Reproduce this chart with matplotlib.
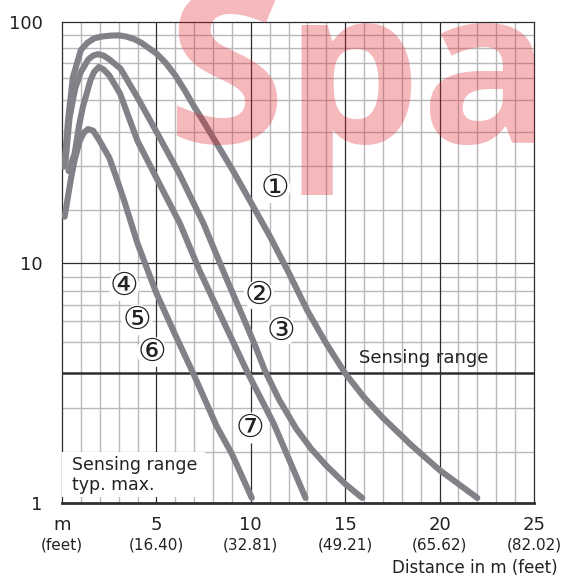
import matplotlib
matplotlib.use("Agg")
import matplotlib.pyplot as plt
from matplotlib.transforms import blended_transform_factory
from matplotlib.patches import Rectangle

# ---------------- data ----------------
curve_a_x = [0.12, 0.32, 0.58, 1.0, 1.35, 1.7, 2.1, 2.6, 3.0, 3.4, 3.8, 4.2, 5.0, 5.5,
             6.0, 6.5, 7.0, 7.5, 8.0, 8.5, 9.0, 9.5, 10.0, 11.0, 12.0, 13.0, 14.0,
             15.0, 16.0, 17.0, 18.5, 20.0, 22.0]
curve_a_y = [25, 39, 59, 76.5, 82, 85.5, 87, 87.8, 88, 87, 85, 82, 74, 67.5,
             60, 52, 44.5, 38.5, 33.1, 28.5, 24.5, 20.9, 17.8, 12.9, 9.1, 6.3, 4.6,
             3.46, 2.75, 2.26, 1.74, 1.37, 1.05]

curve_b_x = [0.18, 0.4, 0.7, 1.0, 1.4, 1.65, 1.9, 2.2, 2.5, 3.1, 4.0, 5.0, 6.2, 7.5,
             8.7, 9.6, 10.2, 10.75, 11.5, 12.4, 13.2, 14.0, 15.0, 15.9]
curve_b_y = [26, 40, 53, 62, 70, 72.5, 73.5, 72.5, 70, 64, 48.5, 35, 23.5, 14.5,
             8.6, 5.9, 4.57, 3.55, 2.69, 2.04, 1.68, 1.43, 1.2, 1.05]

curve_c_x = [0.35, 0.67, 0.9, 1.11, 1.5, 1.7, 1.95, 2.2, 2.5, 3.07, 4.0, 5.0, 6.25,
             7.3, 8.5, 9.85, 11.2, 12.9]
curve_c_y = [24, 28.4, 37, 44.5, 57, 62, 65, 63.5, 60, 50.5, 32, 22.5, 14.5,
             9.2, 5.8, 3.46, 2.15, 1.05]

curve_d_x = [0.14, 0.23, 0.49, 0.67, 0.94, 1.15, 1.38, 1.65, 1.95, 2.2, 2.5, 2.9,
             3.3, 4.0, 5.0, 6.0, 6.95, 8.2, 9.0, 10.05]
curve_d_y = [15.5, 17.1, 22.7, 26.7, 32.0, 34.6, 35.9, 35.3, 32.5, 30, 27.3, 22.3,
             18, 12.0, 7.45, 5.0, 3.46, 2.08, 1.6, 1.05]

curves = [(curve_a_x, curve_a_y), (curve_b_x, curve_b_y),
          (curve_c_x, curve_c_y), (curve_d_x, curve_d_y)]

label_texts = ["①", "②", "③", "④", "⑤", "⑥", "⑦"]
label_x = [11.28, 10.43, 11.6, 3.28, 3.97, 4.77, 9.96]
label_y = [20.4, 7.3, 5.19, 7.98, 5.77, 4.24, 2.05]

x_major = [0, 5, 10, 15, 20, 25]
x_major_labels = ["m", "5", "10", "15", "20", "25"]
x_feet_labels = ["(feet)", "(16.40)", "(32.81)", "(49.21)", "(65.62)", "(82.02)"]
x_minor = [i for i in range(1, 25) if i % 5 != 0]

y_major = [1, 10, 100]
y_major_labels = ["1", "10", "100"]
y_minor = [1.63, 2.48, 4.69, 5.73, 6.66, 7.64, 8.73,
           16.6, 25.1, 35.0, 47.6, 58.6, 67.7, 78.0, 88.7]
sensing_range_y = 3.46

# ---------------- figure ----------------
fig = plt.figure(figsize=(5.65, 5.81), dpi=100)
ax = fig.add_axes([62 / 565, 78 / 581, 472 / 565, 481 / 581])
ax.set_yscale("log")
ax.set_xlim(0, 25)
ax.set_ylim(1, 100)

light = "#b9b9bb"
dark = "#2e2e2e"
for xv in x_minor:
    ax.axvline(xv, color=light, lw=1.0, zorder=1)
for yv in y_minor:
    ax.axhline(yv, color=light, lw=1.0, zorder=1)
for xv in x_major[1:-1]:
    ax.axvline(xv, color=dark, lw=0.9, zorder=2)
ax.axhline(10, color=dark, lw=0.9, zorder=2)
ax.axhline(sensing_range_y, color=dark, lw=1.8, zorder=2)

for s in ["top", "right", "left"]:
    ax.spines[s].set_color(dark)
    ax.spines[s].set_linewidth(0.9)
ax.spines["bottom"].set_color(dark)
ax.spines["bottom"].set_linewidth(2.0)

ax.set_xticks(x_major)
ax.set_xticklabels(x_major_labels, fontsize=13, color="#222222")
ax.set_xticks([], minor=True)
ax.set_yticks(y_major)
ax.set_yticklabels(y_major_labels, fontsize=13, color="#222222")
ax.set_yticks([], minor=True)
ax.tick_params(axis="both", length=0)
ax.tick_params(axis="x", pad=9)
ax.tick_params(axis="y", pad=14)

tr = blended_transform_factory(ax.transData, ax.transAxes)
for xv, lab in zip(x_major, x_feet_labels):
    ax.text(xv, -0.088, lab, transform=tr, ha="center", va="center",
            fontsize=11, color="#222222", clip_on=False)

fig.text(558 / 565, 1 - 568 / 581, "Distance in m (feet)", ha="right",
         va="center", fontsize=12, color="#222222")

# white box behind the bottom-left note
ax.add_patch(Rectangle((0, 0.012), 0.303, 0.093, transform=ax.transAxes,
                       facecolor="white", edgecolor="none", zorder=3))
ax.text(0.021, 0.058, "Sensing range\ntyp. max.", transform=ax.transAxes,
        ha="left", va="center", fontsize=12.5, color="#222222",
        linespacing=1.1, zorder=4)
ax.text(15.75, sensing_range_y * 1.16, "Sensing range", ha="left",
        va="center", fontsize=13, color="#222222", zorder=4)

for cx, cy in curves:
    ax.plot(cx, cy, color="#808288", lw=4.4, solid_capstyle="round",
            solid_joinstyle="round", zorder=5)

for t, lx, ly in zip(label_texts, label_x, label_y):
    ax.text(lx, ly, t, ha="center", va="center", fontsize=23, color="#222222",
            zorder=6, bbox=dict(boxstyle="circle,pad=0.0", facecolor="white",
                                edgecolor="none"))

# watermark
fig.text(166 / 565, 1 - 143 / 581, "Spa", fontsize=155,
         family=["Open Sans", "DejaVu Sans"],
         fontweight="bold", color=(0.88, 0.12, 0.16), alpha=0.31,
         ha="left", va="baseline", zorder=10)

fig.savefig("out.png", dpi=100)
